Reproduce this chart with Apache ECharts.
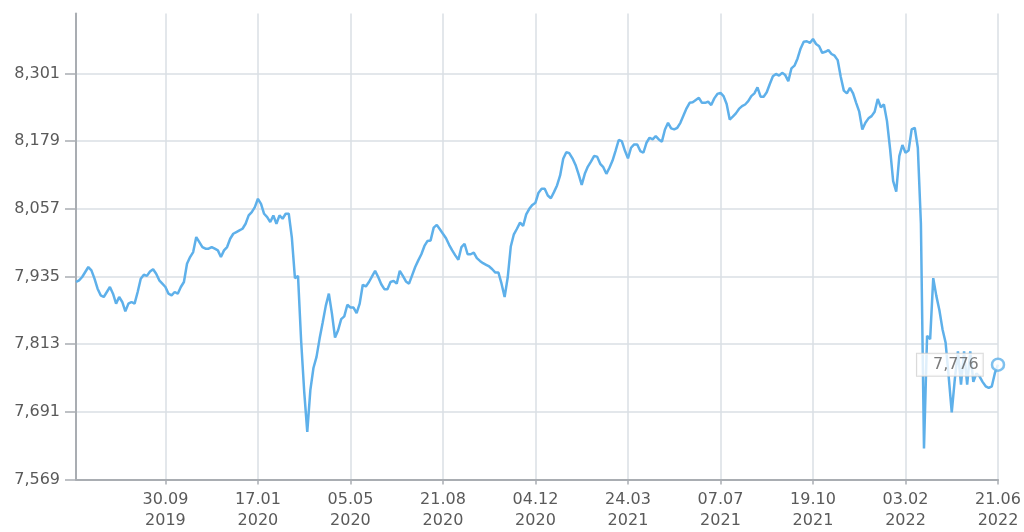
<!DOCTYPE html>
<html>
<head>
<meta charset="utf-8">
<script src="https://cdn.jsdelivr.net/npm/echarts@6/dist/echarts.min.js"></script>
<style>
html,body{margin:0;padding:0;background:#fff;}
#chart{width:1024px;height:532px;}
</style>
</head>
<body>
<div id="chart"></div>
<script>
// ---- data ----
const startDate = '2019-06-17';
const tickDates = ['2019-09-30','2020-01-17','2020-05-05','2020-08-21','2020-12-04','2021-03-24','2021-07-07','2021-10-19','2022-02-03','2022-06-21'];
const firstTickIndex = 29;
const tickStep = 30;

const yTicks = [7.569, 7.691, 7.813, 7.935, 8.057, 8.179, 8.301];
const yMin = 7.569;
const yMax = 8.409;

const values = [
7.925,7.928,7.934,7.943,7.952,7.946,7.931,7.913,7.901,7.898,
7.907,7.916,7.904,7.886,7.898,7.889,7.872,7.886,7.889,7.886,
7.907,7.931,7.938,7.936,7.944,7.948,7.940,7.928,7.922,7.916,
7.904,7.901,7.907,7.904,7.916,7.925,7.958,7.970,7.979,8.006,
7.997,7.988,7.985,7.985,7.988,7.985,7.982,7.970,7.982,7.988,
8.003,8.012,8.015,8.018,8.021,8.030,8.045,8.051,8.060,8.075,
8.066,8.048,8.042,8.033,8.045,8.030,8.045,8.039,8.048,8.048,
8.005,7.932,7.936,7.820,7.728,7.655,7.730,7.770,7.790,7.823,
7.852,7.882,7.904,7.868,7.825,7.838,7.858,7.863,7.884,7.879,
7.879,7.869,7.886,7.920,7.917,7.925,7.935,7.945,7.934,7.921,
7.912,7.912,7.925,7.927,7.922,7.945,7.936,7.926,7.922,7.937,
7.952,7.964,7.975,7.990,7.999,8.000,8.023,8.028,8.020,8.012,
8.004,7.992,7.982,7.973,7.965,7.988,7.994,7.975,7.975,7.978,
7.968,7.963,7.959,7.956,7.953,7.948,7.942,7.942,7.922,7.898,
7.933,7.989,8.011,8.021,8.032,8.026,8.047,8.057,8.064,8.068,
8.086,8.093,8.093,8.081,8.076,8.087,8.099,8.117,8.147,8.159,
8.157,8.148,8.136,8.119,8.100,8.120,8.133,8.142,8.152,8.151,
8.138,8.132,8.120,8.131,8.144,8.162,8.181,8.179,8.162,8.148,
8.167,8.173,8.173,8.161,8.158,8.176,8.185,8.182,8.188,8.182,
8.178,8.200,8.212,8.202,8.200,8.203,8.212,8.225,8.238,8.248,
8.249,8.253,8.257,8.248,8.248,8.250,8.244,8.256,8.264,8.266,
8.260,8.246,8.218,8.223,8.229,8.237,8.242,8.245,8.251,8.260,
8.265,8.276,8.259,8.259,8.267,8.282,8.296,8.300,8.297,8.302,
8.298,8.287,8.310,8.315,8.328,8.346,8.358,8.359,8.356,8.363,
8.354,8.350,8.338,8.340,8.343,8.336,8.333,8.325,8.295,8.270,
8.265,8.275,8.265,8.248,8.232,8.200,8.212,8.220,8.224,8.232,
8.255,8.240,8.245,8.215,8.165,8.107,8.088,8.152,8.172,8.158,
8.162,8.200,8.203,8.167,8.030,7.625,7.828,7.822,7.932,7.900,
7.874,7.840,7.816,7.755,7.690,7.750,7.800,7.740,7.800,7.740,
7.800,7.745,7.760,7.755,7.745,7.737,7.734,7.737,7.761,7.776
];

// ---- category dates (one per value) ----
function pad(n){return (n<10?'0':'')+n;}
function toUTC(s){const p=s.split('-');return Date.UTC(+p[0],+p[1]-1,+p[2]);}
const anchors = [{i:0,t:toUTC(startDate)}].concat(tickDates.map((d,k)=>({i:firstTickIndex+k*tickStep,t:toUTC(d)})));
const categories = values.map((v,i)=>{
  let a=anchors[0], b=anchors[1];
  for(let k=0;k<anchors.length-1;k++){ if(i>=anchors[k].i && i<=anchors[k+1].i){a=anchors[k];b=anchors[k+1];break;} }
  const t = a.t + (b.t-a.t)*(i-a.i)/(b.i-a.i);
  const d = new Date(Math.round(t/86400000)*86400000);
  return pad(d.getUTCDate())+'.'+pad(d.getUTCMonth()+1)+'\n'+d.getUTCFullYear();
});

const isTick = (idx)=> idx>=firstTickIndex && (idx-firstTickIndex)%tickStep===0;
const fmt = v => v.toFixed(3).replace('.', ',');

const lineColor = '#5eb0ea';
const textColor = '#5a5a5a';
const lastIdx = values.length-1;

const chart = echarts.init(document.getElementById('chart'), null, {renderer:'canvas'});
chart.setOption({
  animation:false,
  backgroundColor:'#fff',
  grid:{left:76,right:26,top:13.5,bottom:52.5,containLabel:false},
  xAxis:{
    type:'category',
    data:categories,
    boundaryGap:false,
    axisLine:{show:true,lineStyle:{color:'#a9adb2',width:2}},
    axisTick:{show:true,interval:isTick,length:5,lineStyle:{color:'#a9adb2',width:1.5}},
    axisLabel:{interval:isTick,color:textColor,fontFamily:'DejaVu Sans',fontSize:16,lineHeight:21,margin:10},
    splitLine:{show:true,interval:isTick,lineStyle:{color:'#dadfe4',width:1.5}}
  },
  yAxis:{
    type:'value',
    min:yMin,
    max:yMax,
    axisLine:{show:true,lineStyle:{color:'#a9adb2',width:2}},
    axisTick:{show:true,customValues:yTicks,length:11,lineStyle:{color:'#a9adb2',width:1.5}},
    axisLabel:{customValues:yTicks,formatter:fmt,color:textColor,fontFamily:'DejaVu Sans',fontSize:16,margin:16},
    splitLine:{show:true,lineStyle:{color:'#dadfe4',width:1.5}}
  },
  series:[
    {
      type:'line',
      data:values,
      symbol:'none',
      lineStyle:{color:lineColor,width:2.5},
      z:2
    },
    {
      type:'scatter',
      data:[[categories[lastIdx], values[lastIdx]]],
      symbol:'circle',
      symbolSize:12,
      itemStyle:{color:'#fff',borderColor:lineColor,borderWidth:2.5},
      label:{
        show:true,position:'left',distance:8,
        formatter:p=>fmt(p.value[1]),
        color:textColor,fontFamily:'DejaVu Sans',fontSize:16,
        backgroundColor:'#fff',borderColor:'#cfcfcf',borderWidth:1,
        padding:[3,4,3,16]
      },
      z:5
    }
  ]
});
</script>
</body>
</html>
